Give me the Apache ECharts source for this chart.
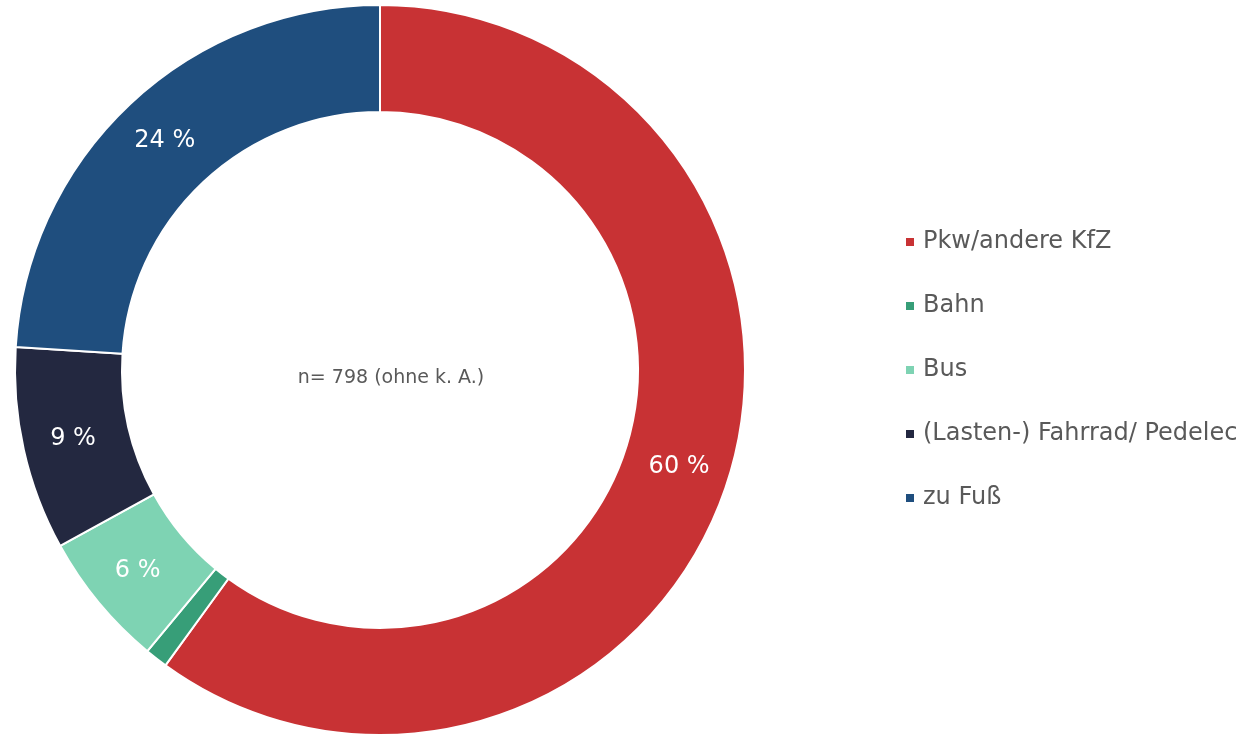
<!DOCTYPE html>
<html>
<head>
<meta charset="utf-8">
<script src="https://cdn.jsdelivr.net/npm/echarts@6/dist/echarts.min.js"></script>
<style>
  html, body { margin: 0; padding: 0; background: #fff; }
  #chart { width: 1248px; height: 736px; }
</style>
</head>
<body>
<div id="chart"></div>
<script>
// Verkehrsmittelwahl, Anteile in Prozent
const categories = ['Pkw/andere KfZ', 'Bahn', 'Bus', '(Lasten-) Fahrrad/ Pedelec', 'zu Fuß'];
const shares = [60, 1, 6, 9, 24];
const colors = ['#C83234', '#379E78', '#7ED3B3', '#232840', '#1F4E7E'];
const hiddenLabels = ['Bahn'];
const sampleNote = 'n= 798 (ohne k. A.)';

const FONT = '"DejaVu Sans", sans-serif';

const chart = echarts.init(document.getElementById('chart'));

chart.setOption({
  animation: false,
  color: colors,
  legend: {
    orient: 'vertical',
    left: 904,
    top: 230,
    padding: 0,
    icon: 'rect',
    itemWidth: 10,
    itemHeight: 10,
    itemGap: 40,
    textStyle: { fontFamily: FONT, fontSize: 24, color: '#595959', padding: [0, 0, 0, 3] },
    data: categories
  },
  graphic: [{
    type: 'text',
    x: 391,
    y: 378,
    style: {
      text: sampleNote,
      fontFamily: FONT,
      fontSize: 19,
      fill: '#595959',
      textAlign: 'center',
      textVerticalAlign: 'middle'
    }
  }],
  series: [{
    type: 'pie',
    center: [380, 370],
    radius: [258, 365],
    startAngle: 90,
    clockwise: true,
    avoidLabelOverlap: false,
    itemStyle: { borderColor: '#ffffff', borderWidth: 2 },
    label: {
      show: true,
      position: 'inside',
      formatter: '{c} %',
      fontFamily: FONT,
      fontSize: 24,
      color: '#ffffff'
    },
    labelLine: { show: false },
    emphasis: { disabled: true },
    data: categories.map((name, i) => ({
      name,
      value: shares[i],
      label: hiddenLabels.includes(name) ? { show: false } : undefined
    }))
  }]
});
</script>
</body>
</html>
